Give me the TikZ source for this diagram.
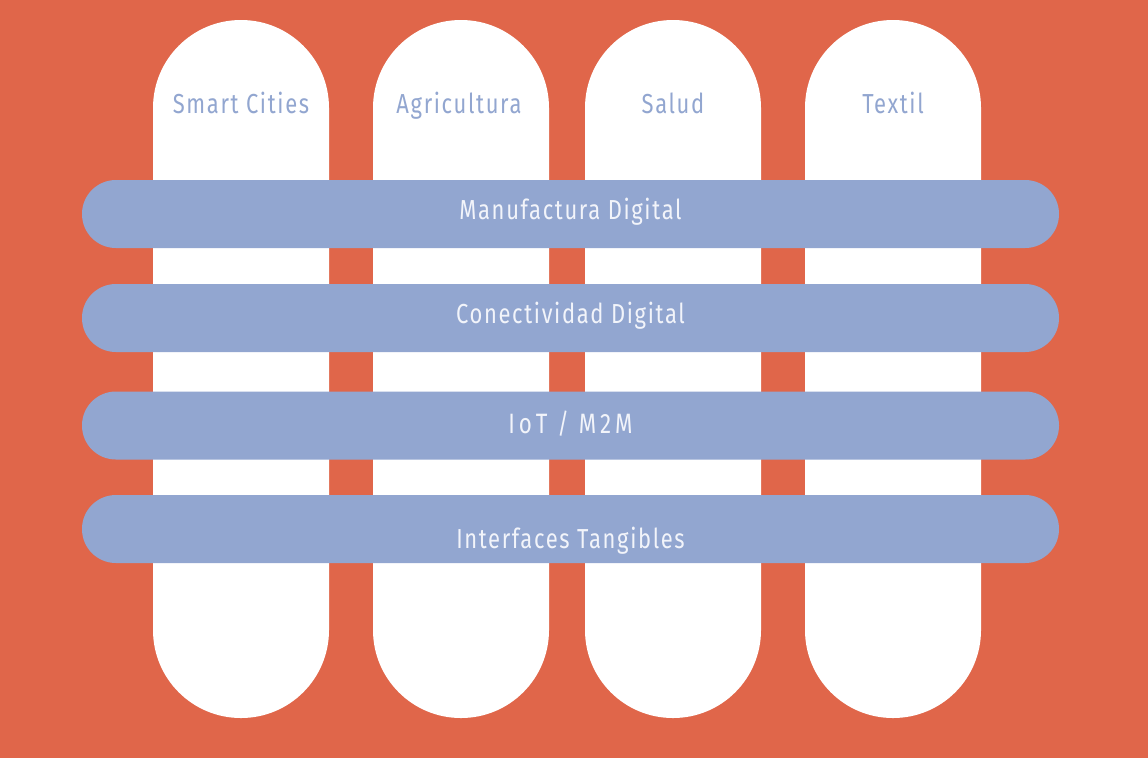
\documentclass[tikz,border=0pt]{standalone}
\definecolor{bgOrange}{RGB}{224, 102, 74}
\definecolor{barBlue}{RGB}{146, 166, 208}
\definecolor{barText}{RGB}{242, 244, 250}
\usepackage{fontspec}
\setmainfont{Fira Sans}[FakeStretch=0.8, LetterSpace=6]
\usepackage{tikz}
\usetikzlibrary{positioning}
\tikzset{
  pillarW/.style={rectangle, fill=white, minimum width=132pt,
                  minimum height=523.5pt, rounded corners=65.9pt, inner sep=0pt},
  pillarLbl/.style={text=barBlue, font=\fontsize{20.6}{23}\selectfont,
                    inner sep=0pt, anchor=base},
  layerB/.style={rectangle, fill=barBlue, minimum width=732.75pt,
                 minimum height=51pt, rounded corners=25.4pt},
  layerTxt/.style={text=barText, font=\fontsize{20.6}{23}\selectfont,
                   inner sep=0pt, anchor=base},
}
\begin{document}
\begin{tikzpicture}[x=0.75pt, y=-0.75pt]
    \fill[bgOrange] (0,0) rectangle (1148,758);
    \useasboundingbox (0,0) rectangle (1148,758);

    % vertical sectors
    \node[pillarW] (C1) at (241,369) {};
    \node[pillarW] (C2) at (461,369) {};
    \node[pillarW] (C3) at (673,369) {};
    \node[pillarW] (C4) at (893,369) {};

    \node[pillarLbl] (L1) at (241,113) {Smart Cities};
    \node[pillarLbl] (L2) at (459,113) {Agricultura};
    \node[pillarLbl] (L3) at (673,113) {Salud};
    \node[pillarLbl] (L4) at (893,113) {Textil};

    % horizontal technologies
    \node[layerB] (T1) at (570.5,214) {};
    \node[layerB] (T2) at (570.5,318) {};
    \node[layerB] (T3) at (570.5,425.5) {};
    \node[layerB] (T4) at (570.5,529) {};

    \node[layerTxt] (T1txt) at (570.5,219) {Manufactura Digital};
    \node[layerTxt] (T2txt) at (570.5,323) {Conectividad Digital};
    \node[layerTxt, font=\fontsize{21}{23}\selectfont\addfontfeature{LetterSpace=14}]
      (T3txt) at (570.5,433) {IoT / M2M};
    \node[layerTxt] (T4txt) at (570.5,548) {Interfaces Tangibles};
  \end{tikzpicture}
\end{document}
